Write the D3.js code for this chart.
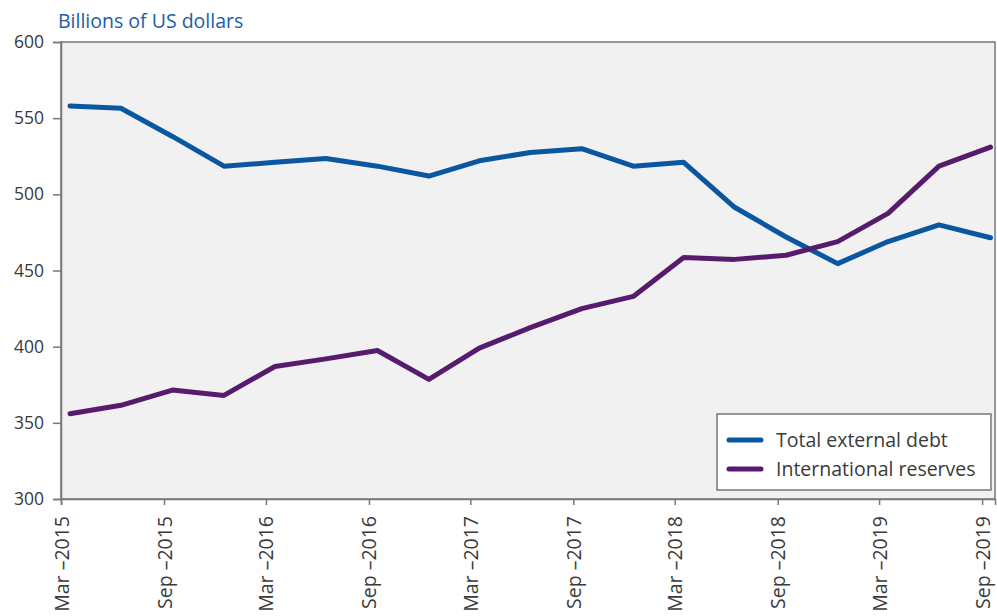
<!DOCTYPE html>
<html>
<head>
<meta charset="utf-8">
<script src="https://cdn.jsdelivr.net/npm/d3@7"></script>
<style>
  html, body { margin: 0; padding: 0; background: #ffffff; }
  svg { display: block; }
  text { font-family: "Open Sans", "Noto Sans", sans-serif; }
</style>
</head>
<body>
<svg id="chart" width="997" height="616"></svg>
<script>
// Quarter-end observation dates
const quarters = [
  "2015-03-31", "2015-06-30", "2015-09-30", "2015-12-31",
  "2016-03-31", "2016-06-30", "2016-09-30", "2016-12-31",
  "2017-03-31", "2017-06-30", "2017-09-30", "2017-12-31",
  "2018-03-31", "2018-06-30", "2018-09-30", "2018-12-31",
  "2019-03-31", "2019-06-30", "2019-09-30"
];
// Billions of US dollars
const totalExternalDebt = [
  558, 556.5, 538, 518.5, 521, 523.5, 518.5, 512, 522, 527.5,
  530, 518.5, 521, 491.5, 472, 454.5, 469, 480, 471.5
];
const internationalReserves = [
  356, 361.5, 371.5, 368, 387, 392, 397.5, 378.5, 399, 412.5,
  425, 433, 458.5, 457.3, 460, 469, 487.5, 518.5, 531
];
const yTicks = [300, 350, 400, 450, 500, 550, 600];
const xTickDates = [
  "2015-03-15", "2015-09-15", "2016-03-15", "2016-09-15", "2017-03-15",
  "2017-09-15", "2018-03-15", "2018-09-15", "2019-03-15", "2019-09-15"
];
const seriesNames = ["Total external debt", "International reserves"];
const seriesColors = ["#0a56a0", "#561b6c"];

const parse = d3.utcParse("%Y-%m-%d");
const fmtTick = d3.utcFormat("%b \u2013%Y");

const svg = d3.select("#chart");
const margin = { left: 61, right: 2, top: 42, bottom: 117 };
const W = 997, H = 616;
const x0 = margin.left, x1 = W - margin.right;
const y0 = margin.top, y1 = H - margin.bottom;

const x = d3.scaleUtc()
  .domain([parse("2015-03-15"), parse("2019-10-08")])
  .range([x0, x1]);
const y = d3.scaleLinear().domain([300, 600]).range([y1, y0]);

// plot background
svg.append("rect")
  .attr("x", x0).attr("y", y0)
  .attr("width", x1 - x0).attr("height", y1 - y0)
  .attr("fill", "#f1f1f1")
  .attr("stroke", "#777")
  .attr("stroke-width", 1.5);

// title
svg.append("text")
  .attr("x", 58).attr("y", 28)
  .attr("fill", "#1a5ea8")
  .attr("font-size", 19.5)
  .text("Billions of US dollars");

// y axis
const yAxis = svg.append("g")
  .attr("transform", `translate(${x0},0)`)
  .call(d3.axisLeft(y).tickValues(yTicks).tickSize(8).tickPadding(9).tickFormat(d3.format("d")));
yAxis.select(".domain").attr("stroke", "#777").attr("stroke-width", 1.5);
yAxis.selectAll(".tick line").attr("stroke", "#777").attr("stroke-width", 1.5);
yAxis.selectAll(".tick text")
  .attr("fill", "#3a3a3a")
  .attr("font-size", 17.5);

// x axis
const xAxis = svg.append("g")
  .attr("transform", `translate(0,${y1})`)
  .call(d3.axisBottom(x).tickValues(xTickDates.map(parse)).tickSize(6).tickFormat(fmtTick));
xAxis.select(".domain").attr("stroke", "#777").attr("stroke-width", 1.5);
xAxis.selectAll(".tick line").attr("stroke", "#777").attr("stroke-width", 1.5);
xAxis.selectAll(".tick text")
  .attr("fill", "#3a3a3a")
  .attr("font-size", 19.5)
  .attr("text-anchor", "end")
  .attr("dy", null)
  .attr("y", 0)
  .attr("transform", "translate(0,17) rotate(-90) translate(0,7)");

// series
const dates = quarters.map(parse);
const series = [totalExternalDebt, internationalReserves];
const line = d3.line()
  .x((d, i) => x(dates[i]))
  .y(d => y(d));

series.forEach((vals, k) => {
  svg.append("path")
    .datum(vals)
    .attr("d", line)
    .attr("fill", "none")
    .attr("stroke", seriesColors[k])
    .attr("stroke-width", 5)
    .attr("stroke-linejoin", "round")
    .attr("stroke-linecap", "round");
});

// legend
const lg = svg.append("g").attr("transform", "translate(717,414)");
lg.append("rect")
  .attr("width", 274).attr("height", 76)
  .attr("fill", "#ffffff")
  .attr("stroke", "#777")
  .attr("stroke-width", 1.5);
seriesNames.forEach((name, k) => {
  const cy = 26 + k * 29;
  lg.append("line")
    .attr("x1", 12).attr("x2", 44)
    .attr("y1", cy).attr("y2", cy)
    .attr("stroke", seriesColors[k])
    .attr("stroke-width", 5)
    .attr("stroke-linecap", "round");
  lg.append("text")
    .attr("x", 59).attr("y", cy + 7)
    .attr("fill", "#3a3a3a")
    .attr("font-size", 19.5)
    .text(name);
});
</script>
</body>
</html>
